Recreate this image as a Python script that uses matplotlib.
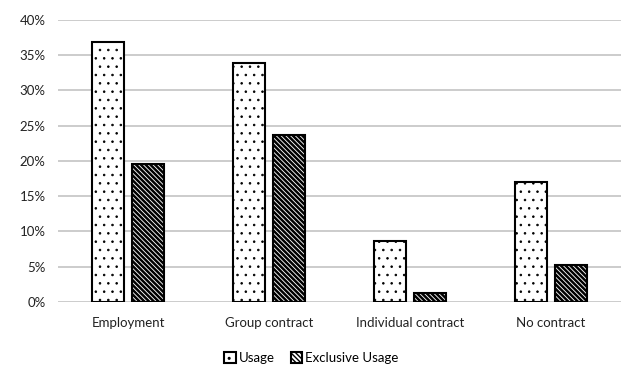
import numpy as np
import matplotlib
matplotlib.use("Agg")
import matplotlib.pyplot as plt
from matplotlib.ticker import FuncFormatter

categories = ["Employment", "Group contract", "Individual contract", "No contract"]
usage = [36.9, 33.9, 8.6, 17.0]
exclusive_usage = [19.6, 23.7, 1.3, 5.3]
y_ticks = [0, 5, 10, 15, 20, 25, 30, 35, 40]

plt.rcParams["font.family"] = ["Lato", "DejaVu Sans"]
plt.rcParams["hatch.color"] = "black"

fig = plt.figure(figsize=(6.21, 3.66), dpi=100)
ax = fig.add_axes([0.0934, 0.175, 0.9066, 0.7704])

x = np.arange(len(categories))
w = 0.227
off = 0.142
# dotted bars use thin hatch strokes so the dots stay small
with plt.rc_context({"hatch.linewidth": 0.6}):
    ax.bar(x - off, usage, w, facecolor="white", edgecolor="black", linewidth=1.5,
           hatch="..", label="Usage", zorder=3)
with plt.rc_context({"hatch.linewidth": 1.8}):
    ax.bar(x + off, exclusive_usage, w, facecolor="white", edgecolor="black", linewidth=1.5,
           hatch="\\" * 7, label="Exclusive Usage", zorder=3)

ax.set_xlim(-0.5, len(categories) - 0.5)
ax.set_ylim(0, 40)
ax.set_yticks(y_ticks)
ax.yaxis.set_major_formatter(FuncFormatter(lambda v, _: f"{v:.0f}%"))
ax.set_xticks(x)
ax.set_xticklabels(categories)
ax.tick_params(axis="both", length=0, labelsize=9.5, colors="#222222")
ax.tick_params(axis="x", pad=11)
ax.tick_params(axis="y", pad=9)
ax.grid(True, axis="y", color="#c8c8c8", linewidth=1.3, zorder=0)
for s in ax.spines.values():
    s.set_visible(False)

ax.legend(loc="center", bbox_to_anchor=(0.45, -0.2), bbox_transform=ax.transAxes,
          ncol=2, frameon=False, fontsize=9.5, handlelength=0.9, handleheight=0.9,
          handletextpad=0.2, columnspacing=1.2, borderaxespad=0)

fig.savefig("out.png", dpi=100)
